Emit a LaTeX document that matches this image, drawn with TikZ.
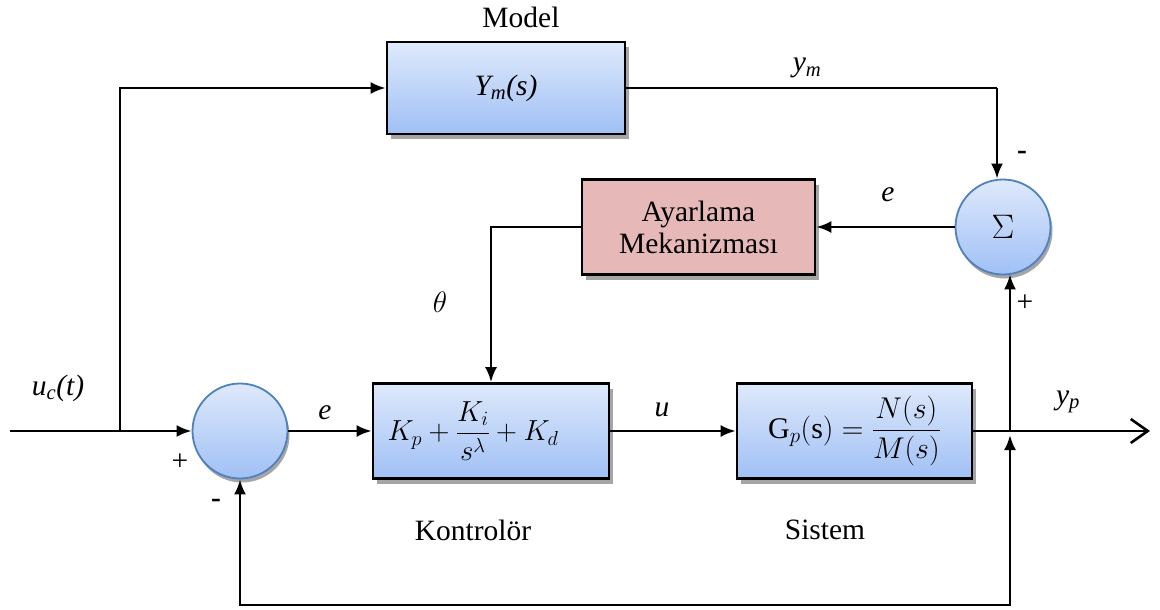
\RequirePackage{fix-cm}
\documentclass[tikz,border=0pt]{standalone}
\usepackage{amsmath}
\usepackage{fontspec}
\setmainfont{Liberation Serif}
\usetikzlibrary{arrows.meta,shadows,calc}
\definecolor{btop}{RGB}{222,233,251}
\definecolor{bbot}{RGB}{160,192,245}
\definecolor{cedge}{RGB}{79,129,189}
\definecolor{pinkf}{RGB}{230,184,183}
\definecolor{shad}{RGB}{165,165,165}
\tikzset{
  blk/.style={draw=black, line width=2.6pt, top color=btop, bottom color=bbot,
    inner sep=0pt, align=center,
    drop shadow={shadow xshift=4pt, shadow yshift=-5pt, fill=shad, opacity=1}},
  pinkblk/.style={draw=black, line width=2.6pt, fill=pinkf, inner sep=0pt, align=center,
    drop shadow={shadow xshift=4pt, shadow yshift=-5pt, fill=shad, opacity=1}},
  sumc/.style={circle, draw=cedge, line width=1.8pt, top color=btop, bottom color=bbot,
    inner sep=0pt, minimum size=95pt,
    drop shadow={shadow xshift=2pt, shadow yshift=-4pt, fill=shad, opacity=1}},
  conn/.style={line width=2.6pt, -{Latex[length=15pt,width=12pt]}},
  plain/.style={line width=2.6pt},
  lbl/.style={inner sep=0pt},
}
\begin{document}
\begin{tikzpicture}[x=1pt,y=-1pt,font=\fontsize{29.5}{34}\selectfont]
\useasboundingbox (0,0) rectangle (1160,610);
% blocks
\node[blk, minimum width=238pt, minimum height=92pt] (model) at (506,88) {\itshape Y\textsubscript{m}(s)};
\node[pinkblk, minimum width=233pt, minimum height=95pt] (ayar) at (698.5,227) {Ayarlama\\[-2pt]Mekanizması};
\node[blk, minimum width=236pt, minimum height=95pt] (kont) at (491,431)
  {\fontsize{29}{34}\selectfont$K_p+\dfrac{K_i}{s^{\lambda}}+K_d$\hspace*{36pt}};
\node[blk, minimum width=235pt, minimum height=95pt] (sis) at (854.5,431)
  {\fontsize{30}{34}\selectfont$\mathrm{G}_p(\mathrm{s})=\dfrac{N(s)}{M(s)}$};
\node[sumc] (sigma) at (1003,227) {\fontsize{34}{34}\selectfont$\Sigma$};
\node[sumc] (sum) at (240,431) {};
% coordinates
\coordinate (in) at (10,431);
\coordinate (br) at (120,431);
\coordinate (j) at (1010,431);
\coordinate (jb) at (1010,435);
\coordinate (fb) at (1010,605);
\coordinate (out) at (1150,431);
\coordinate (ym) at (997,88);
% connectors
\draw[conn] (in) -- (sum.west);
\draw[conn] (br) |- (model.west);
\draw[plain] (model.east) -- (ym);
\draw[conn] (ym) -- (ym |- sigma.north);
\draw[conn] (sigma.west) -- (ayar.east);
\draw[conn] (ayar.west) -| (kont.north);
\draw[conn] (sum.east) -- (kont.west);
\draw[conn] (kont.east) -- (sis.west);
\draw[line width=2.6pt, -{Straight Barb[length=17pt,width=24pt,line width=2.6pt]}] (sis.east) -- (out);
\draw[conn] (j) -- ($(j |- sigma.south)+(0,-1)$);
\draw[line width=2.6pt, {Latex[length=15pt,width=12pt]}-{Latex[length=15pt,width=12pt]}] (jb) -- (fb) -| (sum.south);
% labels
\node[lbl] (lmodel) at (521,17) {Model};
\node[lbl] (lym) at (807,68) {\itshape y\textsubscript{m}};
\node[lbl] (le1) at (888,195) {\itshape e};
\node[lbl] (lth) at (440,302) {$\theta$};
\node[lbl] (luc) at (58,388) {\itshape u\textsubscript{c}(t)};
\node[lbl] (le2) at (325,413) {\itshape e};
\node[lbl] (lu) at (662,410) {\itshape u};
\node[lbl] (lyp) at (1068,402) {\itshape y\textsubscript{p}};
\node[lbl] (lp1) at (180,462) {+};
\node[lbl] (lm1) at (216,503) {\bfseries -};
\node[lbl] (lm2) at (1022,155) {\bfseries -};
\node[lbl] (lp2) at (1025,303) {+};
\node[lbl] (lkont) at (473,530) {Kontrolör};
\node[lbl] (lsis) at (825,530) {Sistem};
\end{tikzpicture}
\end{document}
